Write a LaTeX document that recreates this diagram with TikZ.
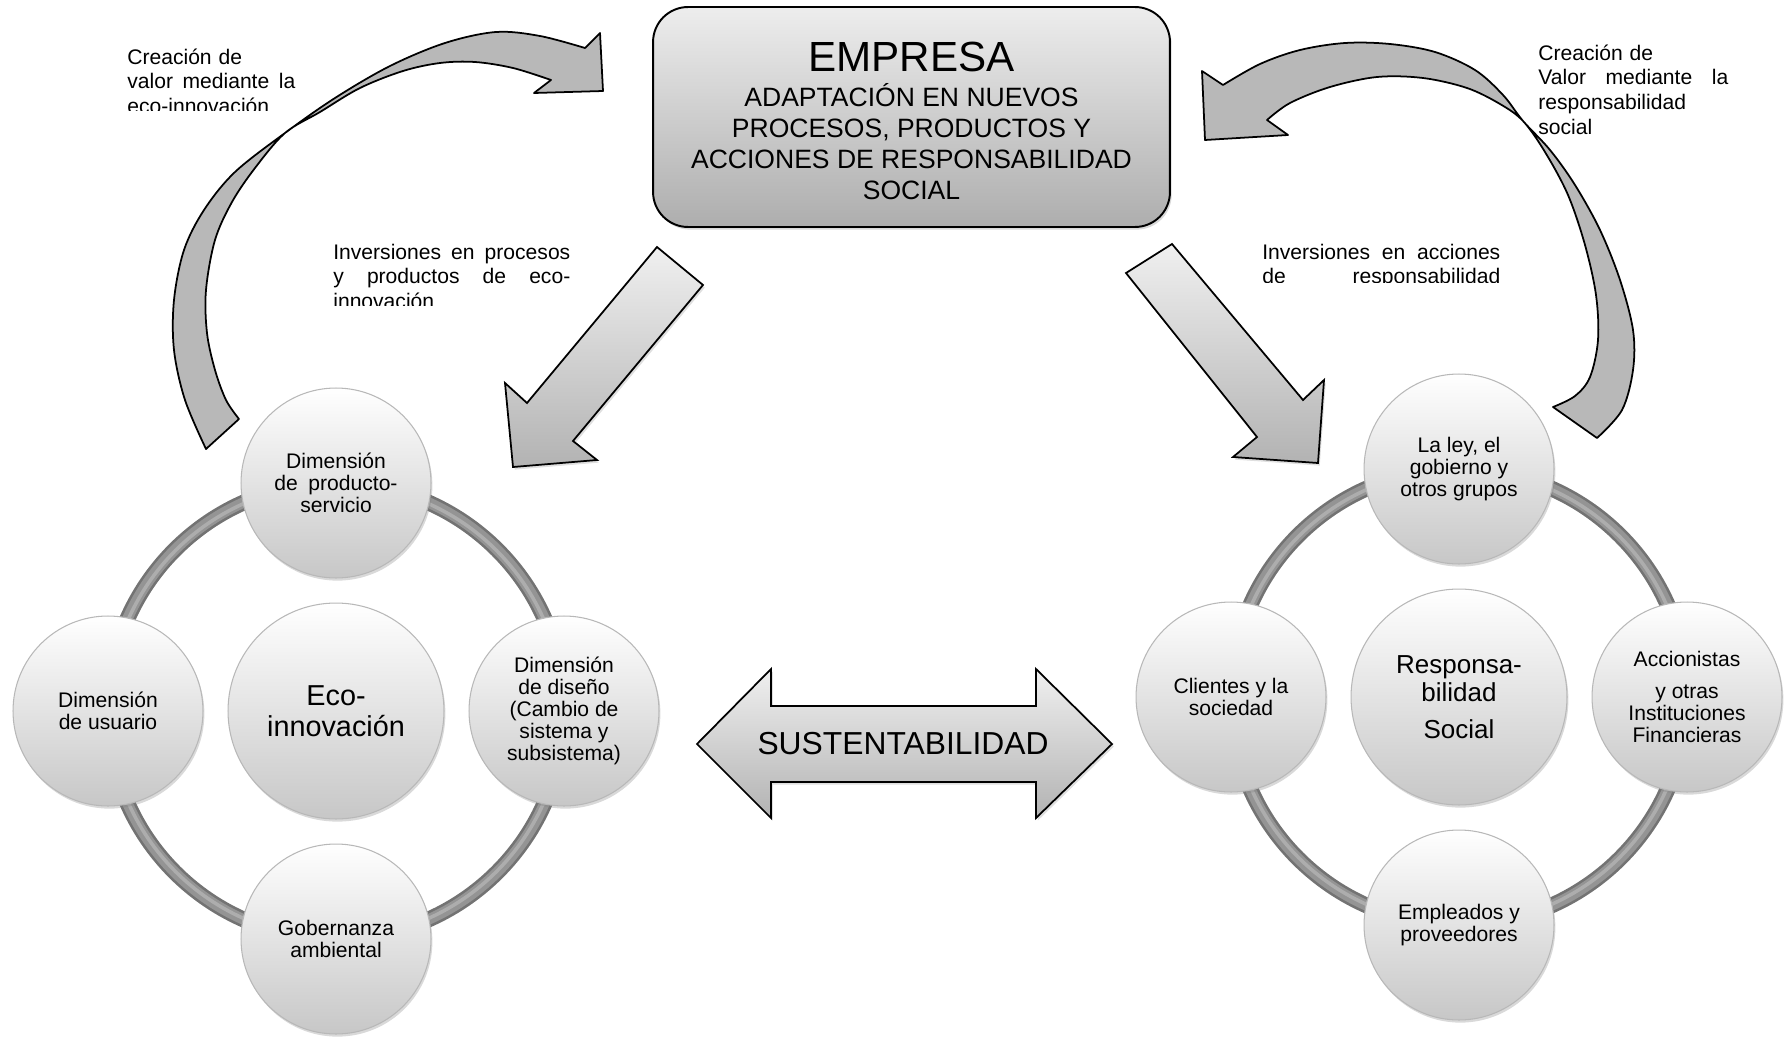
\documentclass[tikz,border=0pt]{standalone}
\usepackage{fontspec}
\setmainfont{Liberation Sans}
\usetikzlibrary{shadows}
\newcommand{\lineajust}[1]{\leavevmode\hbox to\hsize{\spaceskip=0.28em plus 1fil\relax #1}}
\newcommand{\anillo}[1]{%
  \draw[black!55, line width=9pt] (#1) circle[radius=228];
  \draw[black!42, line width=6pt] (#1) circle[radius=228];
  \draw[black!32, line width=2pt] (#1) circle[radius=227];%
}
\newcommand{\recorte}[6]{%
  \begin{scope}
    \clip (#2-10,#3-40) rectangle (#2+300,#5);
    \node[textito, text width=#4, anchor=base west] (#1) at (#2,#3) {#6};
  \end{scope}%
}

\begin{document}
\begin{tikzpicture}[x=0.02cm, y=-0.02cm,
    burbuja/.style={circle, minimum size=3.8cm, inner sep=0pt, align=center,
      draw=black!28, line width=0.6pt, top color=white, bottom color=black!22,
      drop shadow={opacity=0.3, shadow xshift=0.8pt, shadow yshift=-1.5pt},
      font=\fontsize{12}{12.5}\selectfont},
    nucleo/.style={burbuja, minimum size=4.32cm},
    flecha/.style={draw=black, line width=1pt, line join=miter, top color=black!6,
      bottom color=black!30, drop shadow={opacity=0.25, shadow xshift=1pt, shadow yshift=-1.5pt}},
    curva/.style={draw=black, line width=1pt, fill=black!28, line join=round},
    textito/.style={inner sep=0pt, align=left, font=\fontsize{12}{14.2}\selectfont}]
  \useasboundingbox (0,0) rectangle (1788,1041);

  \coordinate (ceco) at (336,711);
  \coordinate (crs) at (1459,697);

  \node[rectangle, rounded corners=0.7cm, minimum width=10.34cm, minimum height=4.4cm,
    draw=black, line width=1.1pt, top color=black!7, bottom color=black!32,
    drop shadow={opacity=0.3, shadow xshift=1pt, shadow yshift=-1.5pt},
    align=center, font=\fontsize{15.1}{17.5}\selectfont] (empresa) at (911.5,117)
    {{\fontsize{24}{24}\selectfont\rule{0pt}{21pt}EMPRESA}\\[2.5pt]
     ADAPTACIÓN EN NUEVOS\\ PROCESOS, PRODUCTOS Y\\ ACCIONES DE RESPONSABILIDAD\\ SOCIAL};

  \draw[curva] plot[smooth, tension=0.55] coordinates {(206,449) (185,400) (174,350) (174,300)
      (184,250) (204,210) (235,172) (285,133) (335,98) (390,66) (445,43) (496,32) (540,36) (585,48)}
    -- (600,33) -- (603,91) -- (534,93)
    -- plot[smooth, tension=0.55] coordinates {(551,80) (513,68) (475,62) (440,63) (403,71)
      (360,88) (320,112) (285,133) (255,168) (232,202) (215,240) (206,290) (207,333) (215,370)
      (226,400) (239,419)} -- cycle;
  \draw[curva] plot[smooth, tension=0.55] coordinates {(1223,85) (1260,64) (1300,50) (1345,43)
      (1390,44) (1435,52) (1475,70) (1503,95) (1523,121) (1550,150) (1575,185) (1600,230)
      (1620,280) (1633,330) (1633,370) (1622,410) (1597,438)}
    -- plot[smooth, tension=0.55] coordinates {(1553,407) (1575,396) (1590,377) (1598,340)
      (1596,295) (1585,245) (1568,195) (1545,152) (1523,121) (1500,104) (1467,88) (1423,78)
      (1377,77) (1330,87) (1290,103) (1267,120)}
    -- (1288,135) -- (1205,140) -- (1202,71) -- cycle;

  \draw[flecha] (657,247) -- (703,285) -- (573,441) -- (597,460) -- (513,467) -- (505,383)
    -- (527,403) -- cycle;
  \draw[flecha] (1126,273) -- (1172,244) -- (1303,400) -- (1324,380) -- (1318,463)
    -- (1233,457) -- (1257,437) -- cycle;
  \draw[flecha] (697,744) -- (771,669) -- (771,706) -- (1036,706) -- (1036,669) -- (1112,744)
    -- (1036,818) -- (1036,782) -- (771,782) -- (771,818) -- cycle;
  \node[font=\fontsize{18.1}{20}\selectfont] (sust) at (903,744) {SUSTENTABILIDAD};

  \recorte{txtcrea}{127}{64}{3.36cm}{110}{Creación de\\ \lineajust{valor mediante la}\\ eco-innovación}
  \recorte{txtinvl}{333}{259}{4.74cm}{305}{\lineajust{Inversiones en procesos}\\
    \lineajust{y productos de eco-}\\ innovación}
  \recorte{txtinvr}{1262}{259}{4.76cm}{282}{\lineajust{Inversiones en acciones}\\
    \lineajust{de responsabilidad}}
  \node[textito, text width=3.8cm, anchor=base west] (txtcrear) at (1538,60)
    {Creación de\\ \lineajust{Valor mediante la}\\ responsabilidad\\ social};

  \foreach \c in {ceco,crs} {\anillo{\c}}

  \node[nucleo, font=\fontsize{16.4}{17.6}\selectfont] (eco) at (ceco) {Eco-\\innovación};
  \node[burbuja] (dimprod) at (336,483) {Dimensión\\ de\hspace{0.5em}producto-\\ servicio};
  \node[burbuja] (dimusu) at (108,711) {Dimensión\\ de usuario};
  \node[burbuja] (dimdis) at (564,711) {Dimensión\\ de diseño\\ (Cambio de\\ sistema y\\ subsistema)};
  \node[burbuja] (gobamb) at (336,939) {Gobernanza\\ ambiental};

  \node[nucleo, font=\fontsize{14.8}{16}\selectfont] (rs) at (crs) {Responsa-\\ bilidad\\[5pt] Social};
  \node[burbuja] (leygob) at (1459,469) {La ley, el\\ gobierno y\\ otros grupos};
  \node[burbuja] (clientes) at (1231,697) {Clientes y la\\ sociedad};
  \node[burbuja] (accion) at (1687,697) {Accionistas\\[5.7pt] y otras\\ Instituciones\\ Financieras};
  \node[burbuja] (emple) at (1459,925) {Empleados y\\ proveedores};
\end{tikzpicture}
\end{document}
